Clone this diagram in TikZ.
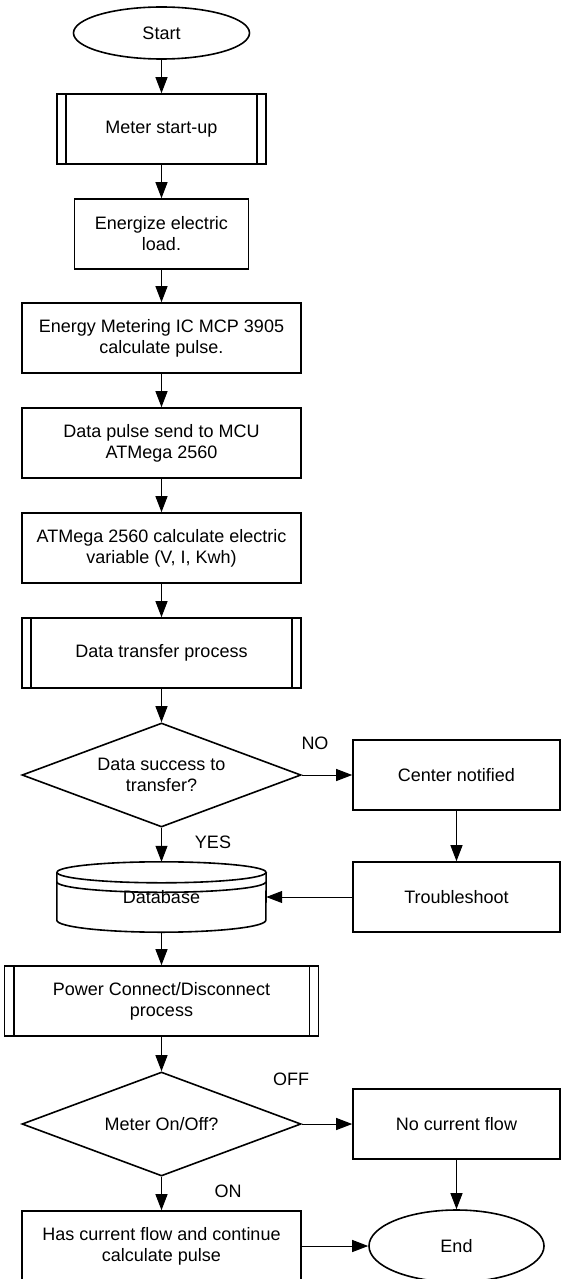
\documentclass[tikz,border=0pt]{standalone}
\usepackage{fontspec}
\setmainfont{Liberation Sans}
\usetikzlibrary{shapes.geometric,arrows.meta}
\begin{document}
\begin{tikzpicture}[x=1pt,y=-1pt,font=\fontsize{18}{21}\selectfont,
 box/.style={draw,line width=1.6pt,rectangle,inner sep=0pt,align=center,minimum height=70pt},
 term/.style={draw,line width=1.6pt,ellipse,inner sep=0pt,minimum width=176pt,minimum height=52pt},
 dec/.style={draw,line width=1.6pt,diamond,aspect=2.68,inner sep=0pt,align=center,minimum width=279pt,minimum height=104pt},
 arr/.style={-{Triangle[length=16pt,width=12pt]},line width=1pt},
 lbl/.style={inner sep=0pt},
 sidebar/.style={line width=1.6pt}]
\useasboundingbox (0,0) rectangle (561,1279);

\node[term] (start) at (161.5,33) {Start};
\node[box,minimum width=209pt] (mstart) at (161.5,129) {Meter start-up};
\node[box,minimum width=174pt] (energize) at (161.5,234) {Energize electric\\load.};
\node[box,minimum width=279pt] (ic) at (161.5,338) {Energy Metering IC MCP 3905\\calculate pulse.};
\node[box,minimum width=279pt] (pulse) at (161.5,443) {Data pulse send to MCU\\ATMega 2560};
\node[box,minimum width=279pt] (atm) at (161.5,548) {ATMega 2560 calculate electric\\variable (V, I, Kwh)};
\node[box,minimum width=279pt] (transfer) at (161.5,653) {Data transfer process};
\node[dec] (ok) at (161.5,775) {Data success to\\transfer?};
\node[box,minimum width=207pt] (notify) at (456.5,775) {Center notified};
\node[box,minimum width=207pt] (trouble) at (456.5,897) {Troubleshoot};
\node[minimum width=209pt,minimum height=70pt,inner sep=0pt] (db) at (161.5,897) {Database};
\node[box,minimum width=314pt] (power) at (161.5,1001) {Power Connect/Disconnect\\process};
\node[dec] (meter) at (161.5,1124) {Meter On/Off?};
\node[box,minimum width=207pt] (nocur) at (456.5,1124) {No current flow};
\node[box,minimum width=279pt] (hascur) at (161.5,1246) {Has current flow and continue\\calculate pulse};
\node[term,minimum width=175pt,minimum height=72pt] (end) at (456.5,1246) {End};

% predefined-process side bars
\draw[sidebar] ([xshift=10pt]mstart.north west) -- ([xshift=10pt]mstart.south west);
\draw[sidebar] ([xshift=-10pt]mstart.north east) -- ([xshift=-10pt]mstart.south east);
\draw[sidebar] ([xshift=10pt]transfer.north west) -- ([xshift=10pt]transfer.south west);
\draw[sidebar] ([xshift=-10pt]transfer.north east) -- ([xshift=-10pt]transfer.south east);
\draw[sidebar] ([xshift=10pt]power.north west) -- ([xshift=10pt]power.south west);
\draw[sidebar] ([xshift=-10pt]power.north east) -- ([xshift=-10pt]power.south east);

% database cylinder
\draw[line width=1.6pt] ([yshift=-10.5pt]db.north) ellipse [x radius=104.5pt, y radius=10.5pt];
\draw[line width=1.6pt] ([yshift=-20pt]db.north west) arc[start angle=180,end angle=360,x radius=104.5pt,y radius=10.5pt];
\draw[line width=1.6pt] ([yshift=-10.5pt]db.north west) -- ([yshift=12pt]db.south west)
  arc[start angle=180,end angle=360,x radius=104.5pt,y radius=12pt] -- ([yshift=-10.5pt]db.north east);

% connectors
\draw[arr] (start) -- (mstart);
\draw[arr] (mstart) -- (energize);
\draw[arr] (energize) -- (ic);
\draw[arr] (ic) -- (pulse);
\draw[arr] (pulse) -- (atm);
\draw[arr] (atm) -- (transfer);
\draw[arr] (transfer) -- (ok);
\draw[arr] (ok.south) -- (db.north);
\draw[arr] (ok.east) -- (notify.west);
\draw[arr] (notify) -- (trouble);
\draw[arr] (trouble.west) -- (db.east);
\draw[arr] (db.south) -- (power.north);
\draw[arr] (power) -- (meter);
\draw[arr] (meter.east) -- (nocur.west);
\draw[arr] (meter.south) -- (hascur.north);
\draw[arr] (nocur.south) -- (end.north);
\draw[arr] (hascur.east) -- (end.west);

% labels
\node[lbl] (lno) at (315,743) {NO};
\node[lbl] (lyes) at (213,842) {YES};
\node[lbl] (loff) at (291,1079) {OFF};
\node[lbl] (lon) at (228,1191) {ON};
\end{tikzpicture}
\end{document}
